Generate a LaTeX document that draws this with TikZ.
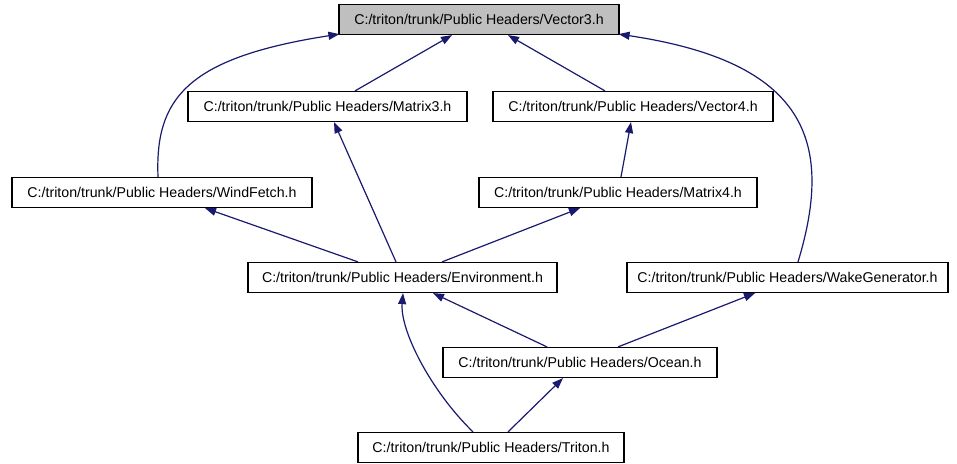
\documentclass[tikz,border=0pt]{standalone}
\usepackage{fontspec}
\setmainfont{Liberation Sans}
\usetikzlibrary{arrows.meta}
\definecolor{edgeblue}{HTML}{191970}
\definecolor{rootgray}{HTML}{BFBFBF}
\begin{document}
\begin{tikzpicture}[x=1pt,y=-1pt,
  filebox/.style={draw=black,line width=1.2pt,fill=white,rectangle,
    minimum height=30pt,inner sep=0pt,font=\fontsize{14.2}{16}\selectfont},
  rootbox/.style={filebox,fill=rootgray},
  edge/.style={draw=edgeblue,line width=1.2pt,
    -{Triangle[length=11pt,width=8pt]}}]
\useasboundingbox (0,0) rectangle (957,463);

% files
\node[rootbox,minimum width=280pt] (vec3) at (479,19.5) {C:/triton/trunk/Public Headers/Vector3.h};
\node[filebox,minimum width=279pt] (mat3) at (327.5,106.5) {C:/triton/trunk/Public Headers/Matrix3.h};
\node[filebox,minimum width=280pt] (vec4) at (633,106.5) {C:/triton/trunk/Public Headers/Vector4.h};
\node[filebox,minimum width=300pt] (wind) at (162,192.5) {C:/triton/trunk/Public Headers/WindFetch.h};
\node[filebox,minimum width=278pt] (mat4) at (618,192.5) {C:/triton/trunk/Public Headers/Matrix4.h};
\node[filebox,minimum width=309pt] (env) at (402.5,277.5) {C:/triton/trunk/Public Headers/Environment.h};
\node[filebox,minimum width=321pt] (wake) at (787.5,277.5) {C:/triton/trunk/Public Headers/WakeGenerator.h};
\node[filebox,minimum width=274pt] (ocean) at (580,362.5) {C:/triton/trunk/Public Headers/Ocean.h};
\node[filebox,minimum width=266pt] (triton) at (491,447.5) {C:/triton/trunk/Public Headers/Triton.h};

% include dependencies
\draw[edge] ([xshift=27.5pt]mat3.north) -- ([xshift=-27pt]vec3.south);
\draw[edge] ([xshift=-28pt]vec4.north) -- ([xshift=29pt]vec3.south);
\draw[edge] ([xshift=-4pt]wind.north) .. controls (155,100) and (185,58) .. ([xshift=1pt,yshift=1pt]vec3.south west);
\draw[edge] ([xshift=10.5pt]wake.north) .. controls (835,140) and (805,62) .. ([xshift=-1pt,yshift=1pt]vec3.south east);
\draw[edge] ([xshift=3pt]mat4.north) -- ([xshift=-2pt]vec4.south);
\draw[edge] ([xshift=-6.5pt]env.north) -- ([xshift=6.5pt]mat3.south);
\draw[edge] ([xshift=-44.5pt]env.north) -- ([xshift=43pt]wind.south);
\draw[edge] ([xshift=39.5pt]env.north) -- ([xshift=-38pt]mat4.south);
\draw[edge] ([xshift=-33pt]ocean.north) -- ([xshift=30.5pt]env.south);
\draw[edge] ([xshift=38pt]ocean.north) -- ([xshift=-32.5pt]wake.south);
\draw[edge] ([xshift=-18pt]triton.north) .. controls (430,390) and (400,330) .. ([xshift=0.5pt]env.south);
\draw[edge] ([xshift=17pt]triton.north) -- ([xshift=-17pt]ocean.south);
\end{tikzpicture}
\end{document}
